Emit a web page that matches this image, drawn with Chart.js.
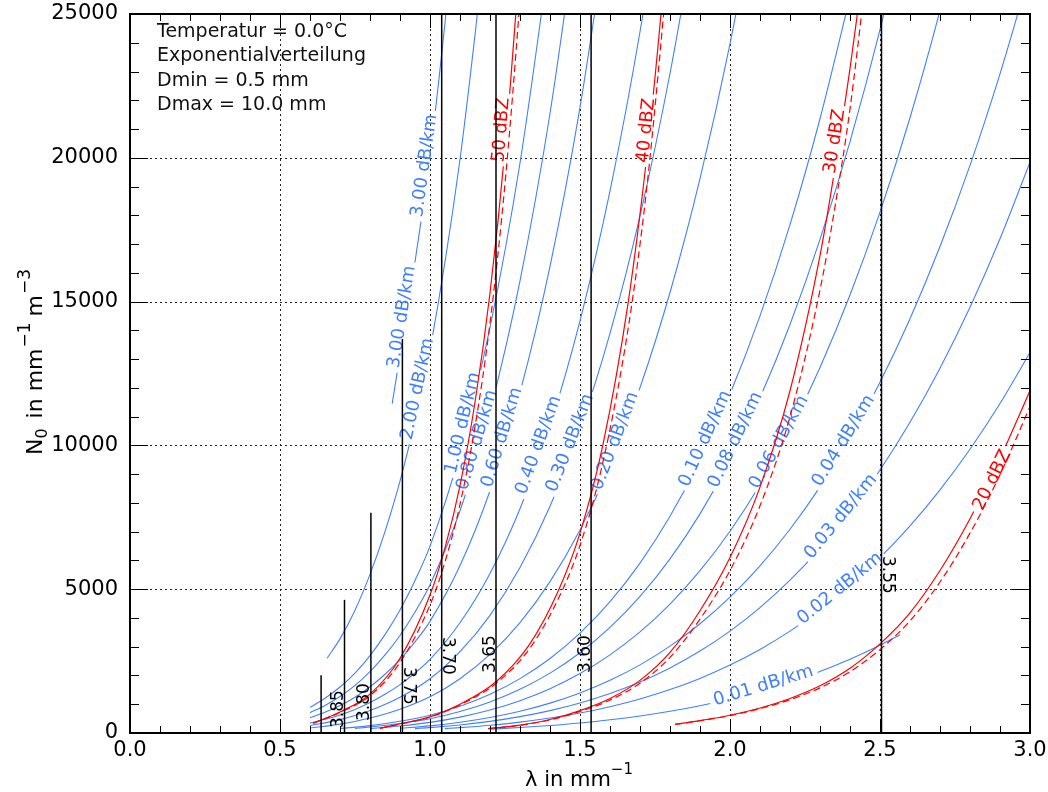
<!DOCTYPE html>
<html>
<head>
<meta charset="utf-8">
<title>N0 - lambda</title>
<script src="https://cdn.jsdelivr.net/npm/chart.js@4.4.1/dist/chart.umd.min.js"></script>
<style>
html, body { margin: 0; padding: 0; background: #ffffff; }
canvas { display: block; }
</style>
</head>
<body>
<canvas id="chart" width="1048" height="792"></canvas>
<script>
// ---------------- tick labels ----------------
const xTickValues = [0.0, 0.5, 1.0, 1.5, 2.0, 2.5, 3.0];
const yTickValues = [0, 5000, 10000, 15000, 20000, 25000];

// ---------------- info text ----------------
const infoLines = ['Temperatur = 0.0°C', 'Exponentialverteilung', 'Dmin = 0.5 mm', 'Dmax = 10.0 mm'];

// ---------------- attenuation curves [lambda, N0] ----------------
const att_3_00 = [[0.874,11450],[0.9,13150],[0.95,16384],[1.0,20074],[1.05,24699],[1.1,30099]];
const att_2_00 = [[0.657,2600],[0.7,3273],[0.75,4269],[0.8,5515],[0.85,7003],[0.9,8755],[0.95,10859],[1.0,13304],[1.1,19948],[1.2,28872]];
const att_1_00 = [[0.6,890],[0.65,1208],[0.7,1599],[0.75,2085],[0.8,2693],[0.85,3421],[0.9,4276],[0.95,5304],[1.0,6498],[1.1,9743],[1.2,14102],[1.3,19820],[1.4,27158]];
const att_0_80 = [[0.6,706],[0.65,958],[0.7,1268],[0.75,1654],[0.8,2136],[0.85,2713],[0.9,3392],[0.95,4207],[1.0,5154],[1.1,7728],[1.2,11185],[1.3,15721],[1.4,21541],[1.5,28884]];
const att_0_60 = [[0.6,531],[0.65,722],[0.7,955],[0.75,1246],[0.8,1609],[0.85,2043],[0.9,2555],[0.95,3168],[1.0,3882],[1.1,5821],[1.2,8425],[1.3,11841],[1.4,16224],[1.5,21755],[1.6,28613]];
const att_0_40 = [[0.6,350],[0.65,475],[0.7,629],[0.75,821],[0.8,1060],[0.85,1346],[0.9,1683],[0.95,2087],[1.0,2557],[1.1,3834],[1.2,5549],[1.3,7799],[1.4,10687],[1.5,14330],[1.6,18847],[1.7,24383],[1.8,31096]];
const att_0_30 = [[0.6,258],[0.7,464],[0.8,782],[0.9,1241],[1.0,1886],[1.1,2827],[1.2,4092],[1.3,5751],[1.4,7881],[1.5,10567],[1.6,13898],[1.7,17980],[1.8,22931],[1.9,28859]];
const att_0_20 = [[0.6,172],[0.7,310],[0.8,522],[0.9,829],[1.0,1259],[1.1,1888],[1.2,2733],[1.3,3841],[1.4,5264],[1.5,7058],[1.6,9283],[1.7,12009],[1.8,15316],[1.9,19275],[2.0,23963],[2.1,29483]];
const att_0_10 = [[0.7,152],[0.8,257],[0.9,408],[1.0,620],[1.1,929],[1.2,1345],[1.3,1890],[1.4,2590],[1.5,3472],[1.6,4567],[1.7,5908],[1.8,7535],[1.9,9483],[2.0,11789],[2.1,14505],[2.2,17677],[2.3,21358],[2.4,25590]];
const att_0_08 = [[0.75,160],[0.8,206],[0.9,328],[1.0,498],[1.1,747],[1.2,1081],[1.3,1519],[1.4,2081],[1.5,2790],[1.6,3670],[1.7,4748],[1.8,6055],[1.9,7620],[2.0,9474],[2.1,11656],[2.2,14205],[2.3,17163],[2.4,20563],[2.5,24457],[2.6,28888]];
const att_0_06 = [[0.8,153],[0.9,243],[1.0,369],[1.1,553],[1.2,800],[1.3,1125],[1.4,1541],[1.5,2066],[1.6,2718],[1.7,3516],[1.8,4484],[1.9,5643],[2.0,7015],[2.1,8631],[2.2,10519],[2.3,12709],[2.4,15227],[2.5,18111],[2.6,21392],[2.7,25120],[2.8,29310]];
const att_0_04 = [[0.9,163],[1.0,248],[1.1,372],[1.2,539],[1.3,757],[1.4,1038],[1.5,1392],[1.6,1830],[1.7,2368],[1.8,3020],[1.9,3800],[2.0,4724],[2.1,5813],[2.2,7084],[2.3,8559],[2.4,10255],[2.5,12197],[2.6,14406],[2.7,16917],[2.8,19737],[2.9,22918],[3.0,26469]];
const att_0_03 = [[0.95,152],[1.0,186],[1.1,279],[1.2,404],[1.3,568],[1.4,778],[1.5,1043],[1.6,1372],[1.7,1776],[1.8,2264],[1.9,2850],[2.0,3543],[2.1,4359],[2.2,5312],[2.3,6418],[2.4,7690],[2.5,9146],[2.6,10803],[2.7,12686],[2.8,14801],[2.9,17186],[3.0,19849]];
const att_0_02 = [[1.05,153],[1.1,186],[1.2,269],[1.3,379],[1.4,519],[1.5,695],[1.6,915],[1.7,1183],[1.8,1509],[1.9,1899],[2.0,2361],[2.1,2905],[2.2,3541],[2.3,4278],[2.4,5125],[2.5,6096],[2.6,7200],[2.7,8455],[2.8,9865],[2.9,11455],[3.0,13229]];
const att_0_01 = [[1.2,135],[1.3,189],[1.4,260],[1.5,348],[1.6,458],[1.7,592],[1.8,755],[1.9,950],[2.0,1182],[2.1,1454],[2.2,1772],[2.3,2141],[2.4,2565],[2.5,3050],[2.567,3415]];

const attCurves = [att_3_00, att_2_00, att_1_00, att_0_80, att_0_60, att_0_40, att_0_30, att_0_20, att_0_10, att_0_08, att_0_06, att_0_04, att_0_03, att_0_02, att_0_01];
const attNames  = ['3.00 dB/km','2.00 dB/km','1.00 dB/km','0.80 dB/km','0.60 dB/km','0.40 dB/km','0.30 dB/km','0.20 dB/km','0.10 dB/km','0.08 dB/km','0.06 dB/km','0.04 dB/km','0.03 dB/km','0.02 dB/km','0.01 dB/km'];

// ---------------- reflectivity curves [lambda, N0] ----------------
const dbz50_solid  = [[0.61,338],[0.7,730],[0.8,1350],[0.9,2600],[1.0,4800],[1.05,6440],[1.1,8600],[1.15,11500],[1.2,15300],[1.25,20300],[1.3,26900]];
const dbz50_dashed = [[0.61,335],[0.7,715],[0.8,1300],[0.9,2450],[1.0,4450],[1.05,5950],[1.1,7950],[1.15,10650],[1.2,14250],[1.25,19100],[1.3,25500],[1.32,28500]];
const dbz40_solid  = [[0.833,164],[0.933,390],[1.0,560],[1.1,1000],[1.223,1810],[1.333,3100],[1.43,5000],[1.5,6950],[1.576,10000],[1.661,15000],[1.722,20000],[1.77,25000],[1.8,28700]];
const dbz40_dashed = [[0.833,162],[0.933,385],[1.0,550],[1.1,975],[1.223,1750],[1.333,2950],[1.43,4720],[1.5,6520],[1.576,9400],[1.661,14100],[1.722,18900],[1.77,24000],[1.8,27600]];
const dbz30_solid  = [[1.194,153],[1.3,275],[1.4,470],[1.5,780],[1.6,1200],[1.7,1830],[1.8,2800],[1.9,4250],[2.0,6100],[2.1,8550],[2.2,11900],[2.3,16600],[2.35,19650],[2.4,23100],[2.45,27000]];
const dbz30_dashed = [[1.194,150],[1.3,268],[1.4,456],[1.5,750],[1.6,1145],[1.7,1730],[1.8,2630],[1.9,3960],[2.0,5650],[2.1,7900],[2.2,11000],[2.3,15400],[2.35,18300],[2.4,21700],[2.45,26000],[2.48,28600]];
const dbz20_solid  = [[1.817,303],[1.9,430],[2.0,617],[2.1,870],[2.2,1200],[2.3,1640],[2.4,2250],[2.5,3100],[2.6,4180],[2.7,5650],[2.8,7450],[2.9,9550],[3.0,11900]];
const dbz20_dashed = [[1.817,300],[1.9,425],[2.0,605],[2.1,845],[2.2,1160],[2.3,1570],[2.4,2130],[2.5,2900],[2.6,3900],[2.7,5250],[2.8,6950],[2.9,8980],[3.0,11350]];

const dbzSolid  = [dbz50_solid, dbz40_solid, dbz30_solid, dbz20_solid];
const dbzDashed = [dbz50_dashed, dbz40_dashed, dbz30_dashed, dbz20_dashed];
const dbzNames  = ['50 dBZ', '40 dBZ', '30 dBZ', '20 dBZ'];

// ---------------- near-vertical ratio lines ----------------
const ratioLambda = [0.637, 0.715, 0.803, 0.908, 1.039, 1.220, 1.537, 2.505];
const ratioTopN0  = [2010, 4630, 7660, 13700, 25000, 25000, 25000, 25000];
const ratioNames  = ['', '3.85', '3.80', '3.75', '3.70', '3.65', '3.60', '3.55'];

// ---------------- label placement (positions / styles) ----------------
const attLabelAt = [[[0.92,5],[0.995,5]], [[0.972,5]], [[1.123,5]], [[1.17,5]], [[1.253,5]], [[1.375,5]], [[1.48,5]], [[1.63,5]], [[1.93,5]], [[2.03,5]], [[2.175,5]], [[2.39,5]], [[2.38,5]], [[2.375,5]], [[2.115,5]]];
const dbzLabelAt = [[[1.255,6]], [[1.731,4]], [[2.363,5]], [[2.866,-2]]];
const ratioLabelPlace = [null, {rot:-1, n0:174}, {rot:-1, n0:417}, {rot:1, n0:2295}, {rot:1, n0:3338}, {rot:-1, n0:2086}, {rot:-1, n0:2086}, {rot:1, n0:6154}];

const FONT = '"DejaVu Sans", "Liberation Sans", Arial, sans-serif';
const BLUE = '#4080ff';
const RED = '#ff0000';

const toPts = arr => arr.map(p => ({x: p[0], y: p[1]}));
const datasets = [];

ratioLambda.forEach((lam, i) => {
  datasets.push({
    label: 'ratio ' + (ratioNames[i] || 'edge'),
    data: [{x: lam, y: 0}, {x: lam, y: ratioTopN0[i]}],
    borderColor: '#000000', borderWidth: 1.5, tension: 0, order: 0,
    kind: 'ratio', ratioText: ratioNames[i], ratioPlace: ratioLabelPlace[i], ratioLam: lam
  });
});
dbzSolid.forEach((arr, i) => {
  datasets.push({
    label: dbzNames[i], data: toPts(arr), borderColor: RED, borderWidth: 1.2,
    cubicInterpolationMode: 'monotone', order: 1,
    kind: 'curve', labelText: dbzNames[i], labelAt: dbzLabelAt[i], labelColor: RED, labelSize: 18
  });
});
dbzDashed.forEach((arr, i) => {
  datasets.push({
    label: dbzNames[i] + ' (dashed)', data: toPts(arr), borderColor: RED, borderWidth: 1.2,
    borderDash: [7, 4], cubicInterpolationMode: 'monotone', order: 1, kind: 'plain'
  });
});
attCurves.forEach((arr, i) => {
  datasets.push({
    label: attNames[i], data: toPts(arr), borderColor: BLUE, borderWidth: 1.1,
    cubicInterpolationMode: 'monotone', order: 2,
    kind: 'curve', labelText: attNames[i], labelAt: attLabelAt[i], labelColor: BLUE, labelSize: 18
  });
});

function geomAt(chart, dsIndex, lam) {
  const pts = chart.getDatasetMeta(dsIndex).data;
  const px = chart.scales.x.getPixelForValue(lam);
  let i = 0;
  while (i < pts.length - 2 && pts[i + 1].x < px) i++;
  const a = pts[i], b = pts[i + 1];
  const t = (px - a.x) / (b.x - a.x);
  return { x: px, y: a.y + t * (b.y - a.y), ang: Math.atan2(b.y - a.y, b.x - a.x) };
}

function labelBoxes(chart, dsIndex) {
  const ds = chart.data.datasets[dsIndex];
  const ctx = chart.ctx;
  ctx.save();
  ctx.font = ds.labelSize + 'px ' + FONT;
  const w = ctx.measureText(ds.labelText).width;
  ctx.restore();
  return ds.labelAt.map(l => {
    const g = geomAt(chart, dsIndex, l[0]);
    const off = l[1];
    return { cx: g.x + off * Math.sin(g.ang), cy: g.y - off * Math.cos(g.ang), ang: g.ang, w: w };
  });
}

const decor = {
  id: 'decor',
  beforeDatasetsDraw(chart) {
    const ctx = chart.ctx, a = chart.chartArea, xs = chart.scales.x, ys = chart.scales.y;
    ctx.save();
    ctx.strokeStyle = '#222';
    ctx.lineWidth = 1;
    ctx.setLineDash([2, 3]);
    [0.5, 1.0, 1.5, 2.0, 2.5].forEach(v => {
      const px = Math.round(xs.getPixelForValue(v)) + 0.5;
      ctx.beginPath(); ctx.moveTo(px, a.top); ctx.lineTo(px, a.bottom); ctx.stroke();
    });
    [5000, 10000, 15000, 20000].forEach(v => {
      const py = Math.round(ys.getPixelForValue(v)) + 0.5;
      ctx.beginPath(); ctx.moveTo(a.left, py); ctx.lineTo(a.right, py); ctx.stroke();
    });
    ctx.restore();
  },
  beforeDatasetDraw(chart, args) {
    const ds = chart.data.datasets[args.index];
    if (ds.kind !== 'curve') return;
    const ctx = chart.ctx;
    const boxes = labelBoxes(chart, args.index);
    ctx.save();
    ctx.beginPath();
    ctx.rect(0, 0, chart.width, chart.height);
    boxes.forEach(b => {
      const hw = b.w / 2 + 4, hh = 8;
      const dx = Math.cos(b.ang), dy = Math.sin(b.ang);
      const nx = Math.sin(b.ang), ny = -Math.cos(b.ang);
      const c = [[-hw, -hh], [hw, -hh], [hw, hh], [-hw, hh]].map(p => [b.cx + p[0] * dx + p[1] * nx, b.cy + p[0] * dy + p[1] * ny]);
      ctx.moveTo(c[0][0], c[0][1]);
      for (let k = 1; k < 4; k++) ctx.lineTo(c[k][0], c[k][1]);
      ctx.closePath();
    });
    ctx.clip('evenodd');
    ds._clipOn = true;
  },
  afterDatasetDraw(chart, args) {
    const ds = chart.data.datasets[args.index];
    const ctx = chart.ctx;
    if (ds._clipOn) { ctx.restore(); ds._clipOn = false; }
    if (ds.kind === 'curve') {
      const boxes = labelBoxes(chart, args.index);
      ctx.save();
      ctx.font = ds.labelSize + 'px ' + FONT;
      ctx.fillStyle = ds.labelColor;
      ctx.textAlign = 'center';
      ctx.textBaseline = 'middle';
      boxes.forEach(b => {
        ctx.save();
        ctx.translate(b.cx, b.cy);
        ctx.rotate(b.ang);
        ctx.fillText(ds.labelText, 0, 1);
        ctx.restore();
      });
      ctx.restore();
    } else if (ds.kind === 'ratio' && ds.ratioText) {
      const p = ds.ratioPlace;
      const x = chart.scales.x.getPixelForValue(ds.ratioLam) + p.rot * 1.5;
      const y = chart.scales.y.getPixelForValue(p.n0);
      ctx.save();
      ctx.font = '17px ' + FONT;
      ctx.fillStyle = '#000';
      ctx.textAlign = 'left';
      ctx.textBaseline = 'alphabetic';
      ctx.translate(x, y);
      ctx.rotate(p.rot * Math.PI / 2);
      ctx.fillText(ds.ratioText, 0, 0);
      ctx.restore();
    }
  },
  afterDraw(chart) {
    const ctx = chart.ctx, a = chart.chartArea, xs = chart.scales.x, ys = chart.scales.y;
    ctx.save();
    ctx.strokeStyle = '#000';
    ctx.lineWidth = 1;
    // x ticks (bottom + top)
    for (let k = 0; k <= 30; k++) {
      const v = k / 10;
      const len = (k % 5 === 0) ? 14 : 7;
      const px = Math.round(xs.getPixelForValue(v)) + 0.5;
      ctx.beginPath();
      ctx.moveTo(px, a.bottom); ctx.lineTo(px, a.bottom - len);
      ctx.moveTo(px, a.top); ctx.lineTo(px, a.top + len);
      ctx.stroke();
    }
    // y ticks (left + right)
    for (let k = 0; k <= 25; k++) {
      const v = k * 1000;
      const len = (k % 5 === 0) ? 18 : 9;
      const py = Math.round(ys.getPixelForValue(v)) + 0.5;
      ctx.beginPath();
      ctx.moveTo(a.left, py); ctx.lineTo(a.left + len, py);
      ctx.moveTo(a.right, py); ctx.lineTo(a.right - len, py);
      ctx.stroke();
    }
    // frame
    ctx.lineWidth = 2;
    ctx.strokeRect(a.left, a.top, a.right - a.left, a.bottom - a.top);
    // info text
    ctx.fillStyle = '#111';
    ctx.font = '19px ' + FONT;
    ctx.textAlign = 'left';
    ctx.textBaseline = 'alphabetic';
    infoLines.forEach((t, i) => ctx.fillText(t, 157, 37 + i * 24.4));
    ctx.restore();
    // axis titles
    drawRich(ctx, [
      {t: 'λ in mm', s: 21, dy: 0},
      {t: '−1', s: 15, dy: -12}
    ], 579, 786, 0);
    drawRich(ctx, [
      {t: 'N', s: 22, dy: 0},
      {t: '0', s: 16, dy: 5, gap: 3},
      {t: ' in mm', s: 22, dy: 0, gap: 1},
      {t: '−1', s: 17, dy: -12, gap: 6},
      {t: 'm', s: 22, dy: 0, gap: 1},
      {t: '−3', s: 17, dy: -12}
    ], 42, 362, -Math.PI / 2);
  }
};

function drawRich(ctx, parts, cx, cy, rot) {
  ctx.save();
  ctx.translate(cx, cy);
  ctx.rotate(rot);
  ctx.fillStyle = '#000';
  ctx.textAlign = 'left';
  ctx.textBaseline = 'alphabetic';
  let total = 0;
  parts.forEach(p => { ctx.font = p.s + 'px ' + FONT; p.w = ctx.measureText(p.t).width + (p.gap || 0); total += p.w; });
  let x = -total / 2;
  parts.forEach(p => { ctx.font = p.s + 'px ' + FONT; ctx.fillText(p.t, x, p.dy); x += p.w; });
  ctx.restore();
}

new Chart(document.getElementById('chart'), {
  type: 'line',
  data: { datasets: datasets },
  options: {
    responsive: false,
    animation: false,
    devicePixelRatio: 1,
    events: [],
    layout: { padding: { left: 0, right: 18, top: 14, bottom: 0 } },
    elements: { point: { radius: 0, hoverRadius: 0 }, line: { fill: false } },
    scales: {
      x: {
        type: 'linear', min: 0, max: 3,
        afterBuildTicks: s => { s.ticks = xTickValues.map(v => ({ value: v })); },
        afterFit: s => { s.height = 59; s.paddingLeft = 0; s.paddingRight = 0; },
        grid: { display: false, drawTicks: false },
        border: { display: false },
        ticks: { font: { family: FONT, size: 21 }, color: '#000', padding: 5, maxRotation: 0, autoSkip: false,
                 callback: v => Number(v).toFixed(1) }
      },
      y: {
        type: 'linear', min: 0, max: 25000,
        afterBuildTicks: s => { s.ticks = yTickValues.map(v => ({ value: v })); },
        afterFit: s => { s.width = 130; s.paddingTop = 0; s.paddingBottom = 0; },
        grid: { display: false, drawTicks: false },
        border: { display: false },
        ticks: { font: { family: FONT, size: 21 }, color: '#000', padding: 12, callback: v => String(v) }
      }
    },
    plugins: { legend: { display: false }, tooltip: { enabled: false }, title: { display: false } }
  },
  plugins: [decor]
});
</script>
</body>
</html>
